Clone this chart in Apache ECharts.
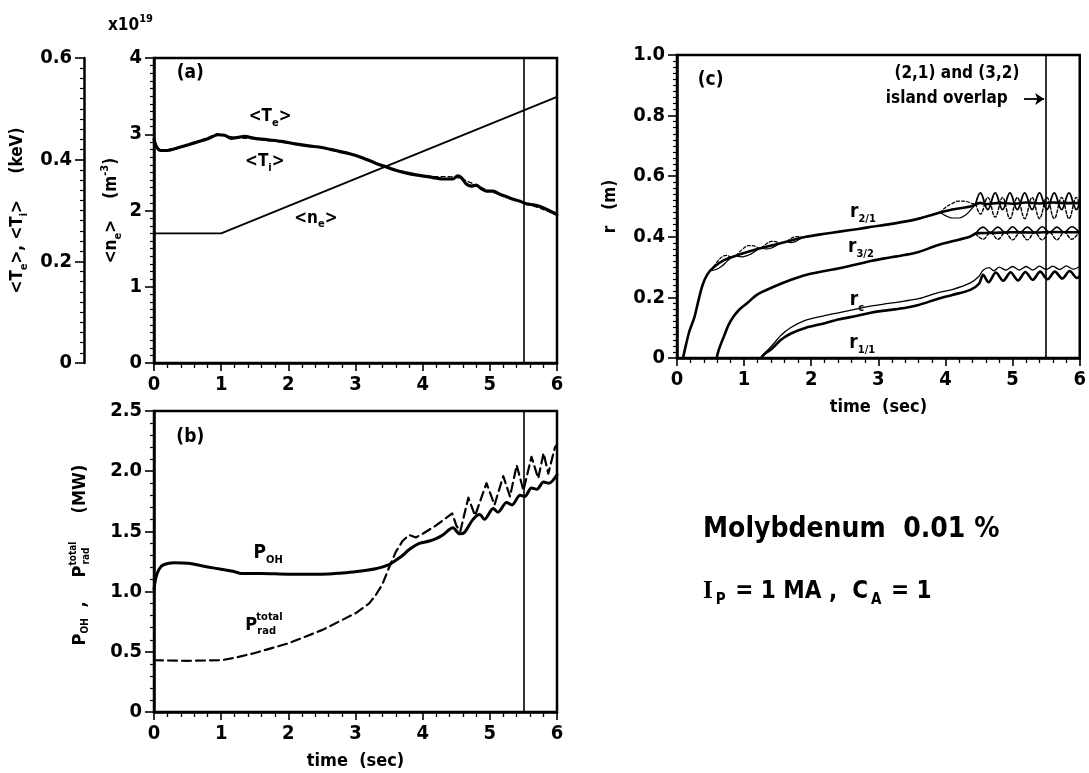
<!DOCTYPE html>
<html>
<head>
<meta charset="utf-8">
<script src="https://cdn.jsdelivr.net/npm/echarts@6.0.0/dist/echarts.min.js"></script>
<style>
  html, body { margin: 0; padding: 0; background: #fff; }
  #chart { width: 1089px; height: 773px; }
</style>
</head>
<body>
<div id="chart"></div>
<script>
// ---------- fonts ----------
const FONT = "'Liberation Sans Narrow', 'DejaVu Sans Condensed', 'Liberation Sans', sans-serif";
const SERIF = "'Liberation Serif', 'DejaVu Serif', serif";

// ---------- tick labels ----------
const timeTickLabels = ['0', '1', '2', '3', '4', '5', '6'];
const densityTickLabels = ['0', '1', '2', '3', '4'];
const tempTickLabels = ['0', '0.2', '0.4', '0.6'];
const powerTickLabels = ['0', '0.5', '1.0', '1.5', '2.0', '2.5'];
const radiusTickLabels = ['0', '0.2', '0.4', '0.6', '0.8', '1.0'];

// ---------- (a) volume-averaged temperatures [keV] and density [1e19 m^-3] ----------
const teKeV = [[0,0.44],[0.04,0.425],[0.1,0.418],[0.2,0.418],[0.3,0.421],[0.45,0.427],[0.6,0.433],
  [0.8,0.441],[0.95,0.449],[1.05,0.448],[1.15,0.442],[1.25,0.444],[1.35,0.446],[1.5,0.442],
  [1.7,0.439],[1.9,0.436],[2.1,0.431],[2.3,0.427],[2.5,0.424],[2.7,0.418],[2.9,0.412],[3.1,0.404],
  [3.3,0.393],[3.45,0.386],[3.6,0.379],[3.75,0.374],[3.9,0.37],[4.1,0.366],[4.3,0.362],[4.45,0.362],
  [4.52,0.368],[4.58,0.364],[4.65,0.352],[4.72,0.348],[4.8,0.35],[4.87,0.343],[4.95,0.338],
  [5.05,0.338],[5.15,0.332],[5.25,0.327],[5.35,0.322],[5.45,0.318],[5.55,0.313],[5.65,0.311],
  [5.75,0.308],[5.85,0.302],[6.0,0.292]];
const tiKeV = [[0,0.438],[0.1,0.417],[0.2,0.419],[0.4,0.426],[0.6,0.434],[0.8,0.443],[0.95,0.451],
  [1.1,0.446],[1.25,0.443],[1.5,0.441],[2.0,0.433],[2.5,0.423],[3.0,0.408],[3.45,0.386],
  [4.0,0.368],[4.5,0.365],[5.0,0.338],[5.5,0.316],[6.0,0.292]];
const neAvg = [[0,1.7],[1.0,1.7],[6.0,3.49]];

// ---------- (b) ohmic input and total radiated power [MW] ----------
const pOhmic = [[0,1.02],[0.03,1.12],[0.08,1.19],[0.15,1.225],[0.3,1.24],[0.5,1.235],[0.8,1.205],
  [1.0,1.185],[1.2,1.165],[1.3,1.15],[1.6,1.15],[2.0,1.145],[2.5,1.145],[2.8,1.155],[3.0,1.165],
  [3.3,1.19],[3.5,1.225],[3.6,1.26],[3.7,1.3],[3.8,1.35],[3.95,1.4],[4.1,1.42],[4.2,1.44],
  [4.3,1.47],[4.45,1.53],[4.55,1.48],[4.62,1.49],[4.75,1.6],[4.85,1.64],[4.92,1.6],[5.05,1.69],
  [5.12,1.66],[5.25,1.74],[5.33,1.72],[5.45,1.8],[5.52,1.79],[5.62,1.86],[5.7,1.85],[5.8,1.91],
  [5.88,1.9],[6.0,1.97]];
const pRadTotal = [[0,0.43],[0.5,0.425],[1.0,0.43],[1.2,0.45],[1.5,0.49],[2.0,0.57],[2.5,0.68],
  [3.0,0.82],[3.2,0.9],[3.3,0.97],[3.4,1.06],[3.5,1.2],[3.6,1.33],[3.7,1.42],[3.8,1.47],
  [3.85,1.46],[3.9,1.45],[4.0,1.48],[4.2,1.55],[4.44,1.65],[4.5,1.55],[4.56,1.5],[4.68,1.78],
  [4.78,1.63],[4.95,1.9],[5.07,1.72],[5.2,1.96],[5.3,1.79],[5.4,2.05],[5.5,1.84],[5.62,2.12],
  [5.72,1.94],[5.8,2.15],[5.87,1.98],[5.97,2.2],[6.0,2.22]];

// ---------- (c) radii of rational surfaces and island edges [m] ----------
const r21 = [[0.09,0],[0.13,0.04],[0.18,0.085],[0.22,0.11],[0.26,0.135],[0.32,0.19],[0.38,0.24],
  [0.45,0.275],[0.55,0.3],[0.7,0.323],[0.95,0.343],[1.2,0.36],[1.44,0.373],[1.7,0.388],[1.92,0.4],
  [2.2,0.41],[2.42,0.417],[2.7,0.426],[2.9,0.433],[3.15,0.441],[3.39,0.45],[3.6,0.46],[3.88,0.478],
  [4.1,0.49],[4.37,0.5],[4.52,0.512],[4.6,0.508],[4.8,0.512],[5.0,0.509],[5.2,0.513],[5.4,0.51],
  [5.6,0.513],[5.8,0.511],[6.0,0.512]];
const r32 = [[0.59,0],[0.62,0.025],[0.66,0.05],[0.7,0.072],[0.77,0.11],[0.84,0.136],[0.93,0.16],
  [1.04,0.18],[1.2,0.21],[1.44,0.235],[1.7,0.258],[1.92,0.274],[2.2,0.287],[2.42,0.296],[2.7,0.31],
  [2.9,0.321],[3.15,0.331],[3.39,0.34],[3.6,0.35],[3.88,0.372],[4.1,0.385],[4.37,0.401],
  [4.47,0.412],[4.7,0.413],[5.0,0.415],[5.3,0.414],[5.6,0.416],[6.0,0.415]];
const rC = [[1.25,0],[1.3,0.015],[1.4,0.037],[1.55,0.075],[1.69,0.1],[1.92,0.125],[2.2,0.14],
  [2.42,0.15],[2.7,0.163],[2.9,0.172],[3.15,0.18],[3.39,0.188],[3.6,0.196],[3.88,0.215],[4.1,0.226],
  [4.37,0.248],[4.5,0.27],[4.56,0.29],[4.65,0.298],[4.72,0.288],[4.8,0.3],[4.9,0.29],[5.0,0.302],
  [5.1,0.29],[5.2,0.302],[5.3,0.29],[5.4,0.303],[5.5,0.292],[5.6,0.303],[5.7,0.292],[5.8,0.304],
  [5.9,0.293],[6.0,0.302]];
const r11 = [[1.25,0],[1.3,0.012],[1.4,0.028],[1.55,0.06],[1.69,0.08],[1.92,0.1],[2.2,0.115],
  [2.42,0.128],[2.7,0.14],[2.9,0.15],[3.15,0.158],[3.39,0.165],[3.6,0.175],[3.88,0.195],[4.1,0.208],
  [4.37,0.225],[4.5,0.245],[4.56,0.275],[4.64,0.25],[4.75,0.282],[4.86,0.255],[4.97,0.283],
  [5.08,0.256],[5.19,0.284],[5.3,0.258],[5.41,0.285],[5.52,0.26],[5.63,0.285],[5.74,0.262],
  [5.85,0.287],[5.96,0.264],[6.0,0.27]];

// island separatrix traces, drawn as separate segments
const r21EdgeSolid = [
  [[0.5,0.288],[0.58,0.292],[0.66,0.302],[0.74,0.318],[0.8,0.331]],
  [[0.88,0.338],[0.97,0.334],[1.07,0.34],[1.15,0.35],[1.22,0.361]],
  [[1.26,0.363],[1.33,0.36],[1.41,0.363],[1.47,0.37],[1.52,0.377]],
  [[1.64,0.385],[1.7,0.381],[1.76,0.384],[1.81,0.39],[1.86,0.397]],
  [[3.92,0.48],[4.0,0.47],[4.1,0.462],[4.2,0.462],[4.3,0.472],[4.38,0.49],[4.45,0.508]]
];
const r21EdgeDashed = [
  [[0.5,0.288],[0.58,0.312],[0.66,0.332],[0.74,0.339],[0.8,0.331]],
  [[0.88,0.338],[0.97,0.358],[1.07,0.371],[1.15,0.37],[1.22,0.361]],
  [[1.26,0.363],[1.33,0.376],[1.41,0.385],[1.47,0.384],[1.52,0.377]],
  [[1.64,0.385],[1.7,0.395],[1.76,0.4],[1.81,0.401],[1.86,0.397]],
  [[3.92,0.48],[4.0,0.497],[4.1,0.51],[4.2,0.518],[4.3,0.517],[4.38,0.511],[4.45,0.508]]
];
// oscillating (2,1) island edges once the islands rotate past the overlap
const r21OuterWave = [[4.45,0.508],[4.52,0.545],[4.63,0.49],[4.74,0.545],[4.85,0.49],[4.96,0.545],
  [5.07,0.49],[5.18,0.545],[5.29,0.49],[5.4,0.545],[5.51,0.49],[5.62,0.545],[5.73,0.49],
  [5.84,0.545],[5.95,0.49],[6.0,0.515]];
const r21InnerWave = [[4.45,0.508],[4.52,0.475],[4.63,0.53],[4.74,0.465],[4.85,0.53],[4.96,0.46],
  [5.07,0.53],[5.18,0.46],[5.29,0.53],[5.4,0.46],[5.51,0.53],[5.62,0.46],[5.73,0.53],[5.84,0.46],
  [5.95,0.53],[6.0,0.505]];
const r32OuterWave = [[4.45,0.41],[4.56,0.432],[4.67,0.414],[4.78,0.432],[4.89,0.414],[5.0,0.433],
  [5.11,0.414],[5.22,0.432],[5.33,0.414],[5.44,0.433],[5.55,0.415],[5.66,0.432],[5.77,0.415],
  [5.88,0.433],[5.99,0.415]];
const r32InnerWave = [[4.45,0.41],[4.56,0.392],[4.67,0.414],[4.78,0.392],[4.89,0.414],[5.0,0.39],
  [5.11,0.414],[5.22,0.39],[5.33,0.414],[5.44,0.39],[5.55,0.415],[5.66,0.39],[5.77,0.415],
  [5.88,0.392],[5.99,0.415]];

// time at which the (2,1) and (3,2) islands overlap
const tOverlap = 5.5;

// ---------- styling helpers ----------
const RICH = {
  n: { fontFamily: FONT, fontWeight: 'bold', fontSize: 17, lineHeight: 24, verticalAlign: 'middle', color: '#000' },
  big: { fontFamily: FONT, fontWeight: 'bold', fontSize: 19, lineHeight: 26, verticalAlign: 'middle', color: '#000' },
  s: { fontFamily: FONT, fontWeight: 'bold', fontSize: 11, lineHeight: 12, verticalAlign: 'bottom', color: '#000' },
  p: { fontFamily: FONT, fontWeight: 'bold', fontSize: 11, lineHeight: 12, verticalAlign: 'top', color: '#000' }
};

function xAxisFor(gridIndex, name) {
  return {
    type: 'value', gridIndex, min: 0, max: 6, interval: 1,
    name: name || '', nameLocation: 'middle', nameGap: 40,
    nameTextStyle: { fontFamily: FONT, fontWeight: 'bold', fontSize: 18, color: '#000' },
    axisLine: { show: true, onZero: false, lineStyle: { color: '#000', width: 2.5 } },
    axisTick: { show: true, length: 8, lineStyle: { color: '#000', width: 1.6 } },
    minorTick: { show: true, splitNumber: 5, length: 5, lineStyle: { color: '#000', width: 1.3 } },
    axisLabel: { fontFamily: FONT, fontWeight: 'bold', fontSize: 20, color: '#000', margin: 12,
      formatter: v => timeTickLabels[Math.round(v)] },
    splitLine: { show: false }
  };
}

function yAxisFor(gridIndex, max, interval, minorSplit, labels, extra) {
  return Object.assign({
    type: 'value', gridIndex, min: 0, max, interval, position: 'left',
    nameLocation: 'middle', nameRotate: 90,
    nameTextStyle: { rich: RICH },
    axisLine: { show: true, onZero: false, lineStyle: { color: '#000', width: 2.5 } },
    axisTick: { show: true, length: 9, lineStyle: { color: '#000', width: 1.6 } },
    minorTick: { show: true, splitNumber: minorSplit, length: 4, lineStyle: { color: '#000', width: 1.2 } },
    axisLabel: { fontFamily: FONT, fontWeight: 'bold', fontSize: 20, color: '#000', margin: 12,
      formatter: v => labels[Math.round(v / interval)] },
    splitLine: { show: false }
  }, extra || {});
}

function lineSeries(xi, yi, data, width, dash, smooth, z) {
  return {
    type: 'line', xAxisIndex: xi, yAxisIndex: yi, data,
    showSymbol: false, symbol: 'none', smooth: smooth, animation: false, silent: true,
    lineStyle: { color: '#000', width, type: dash || 'solid', cap: 'round', join: 'round' },
    z: z || 2
  };
}

const overlapMark = {
  silent: true, symbol: ['none', 'none'], animation: false,
  label: { show: false },
  lineStyle: { color: '#000', width: 1.6, type: 'solid' },
  data: [{ xAxis: tOverlap }]
};

// ---------- series ----------
const series = [];
series.push(lineSeries(0, 1, teKeV, 3.2, 'solid', 0.25, 3));
series.push(lineSeries(0, 1, tiKeV, 1.3, [4, 3], 0.25, 4));
const neSeries = lineSeries(0, 0, neAvg, 1.8, 'solid', false);
neSeries.markLine = overlapMark;
series.push(neSeries);

const pohSeries = lineSeries(1, 2, pOhmic, 3, 'solid', 0.3, 3);
pohSeries.markLine = overlapMark;
series.push(pohSeries);
series.push(lineSeries(1, 2, pRadTotal, 2.2, [9, 5], false, 3));

const r21Series = lineSeries(2, 3, r21, 2.6, 'solid', 0.3, 3);
r21Series.markLine = overlapMark;
series.push(r21Series);
series.push(lineSeries(2, 3, r32, 2.6, 'solid', 0.3, 3));
series.push(lineSeries(2, 3, rC, 1.3, 'solid', 0.3, 3));
series.push(lineSeries(2, 3, r11, 2.6, 'solid', 0.3, 3));
r21EdgeSolid.forEach(seg => series.push(lineSeries(2, 3, seg, 1.2, 'solid', 0.4, 4)));
r21EdgeDashed.forEach(seg => series.push(lineSeries(2, 3, seg, 1.2, [3, 2], 0.4, 4)));
series.push(lineSeries(2, 3, r21OuterWave, 1.9, 'solid', 0.4, 4));
series.push(lineSeries(2, 3, r21InnerWave, 1.4, [3, 2], 0.4, 4));
series.push(lineSeries(2, 3, r32OuterWave, 1.6, 'solid', 0.4, 4));
series.push(lineSeries(2, 3, r32InnerWave, 1.4, [3, 2], 0.4, 4));

// arrow pointing at the overlap time
const arrowHolder = lineSeries(2, 3, [], 1, 'solid', false);
arrowHolder.markLine = {
  silent: true, animation: false, label: { show: false }, symbolSize: 9,
  lineStyle: { color: '#000', width: 1.8, type: 'solid' },
  data: [[{ coord: [5.17, 0.855], symbol: 'none' }, { coord: [5.47, 0.855], symbol: 'arrow' }]]
};
series.push(arrowHolder);

const gridStyle = { show: true, borderColor: '#000', borderWidth: 2.5, backgroundColor: 'transparent' };

const option = {
  animation: false,
  backgroundColor: '#fff',
  textStyle: { fontFamily: FONT },
  grid: [
    Object.assign({ left: 154, top: 58, width: 403, height: 305 }, gridStyle),
    Object.assign({ left: 154, top: 411, width: 403, height: 301 }, gridStyle),
    Object.assign({ left: 677, top: 55, width: 409, height: 303 }, gridStyle)
  ],
  xAxis: [xAxisFor(0), xAxisFor(1, 'time  (sec)'), xAxisFor(2, 'time  (sec)')],
  yAxis: [
    yAxisFor(0, 4, 1, 10, densityTickLabels, {
      name: '{n|<n}{s|e}{n|>    (m}{p|-3}{n|)}', nameGap: 30
    }),
    yAxisFor(0, 0.6, 0.2, 10, tempTickLabels, {
      offset: 70,
      name: '{n|<T}{s|e}{n|>, <T}{s|i}{n|>     (keV)}', nameGap: 54
    }),
    yAxisFor(1, 2.5, 0.5, 5, powerTickLabels, {}),
    yAxisFor(2, 1.0, 0.2, 10, radiusTickLabels, { name: '{n|r   (m)}', nameGap: 54 })
  ],
  series
};

const chart = echarts.init(document.getElementById('chart'), null, { renderer: 'canvas' });
chart.setOption(option);

// ---------- annotations anchored to data coordinates ----------
const A = { xAxisIndex: 0, yAxisIndex: 0 };
const B = { xAxisIndex: 1, yAxisIndex: 2 };
const C = { xAxisIndex: 2, yAxisIndex: 3 };
const at = (sys, pt) => chart.convertToPixel(sys, pt);

function text(pos, str, align) {
  return {
    type: 'text', x: pos[0], y: pos[1], silent: true, z: 10,
    style: { text: str, rich: RICH, align: align || 'center', verticalAlign: 'middle', fill: '#000',
      fontFamily: FONT, fontWeight: 'bold', fontSize: 17 }
  };
}

function plain(x, y, str, size, align, family, weight) {
  return { type: 'text', x, y, silent: true, z: 10,
    style: { text: str, fill: '#000', fontFamily: family || FONT, fontWeight: weight || 'bold', fontSize: size,
      align: align || 'left', verticalAlign: 'middle' } };
}

// P_rad with stacked "total" / "rad" scripts
function pRadGroup(pos) {
  return {
    type: 'group', x: pos[0], y: pos[1], silent: true, z: 10,
    children: [
      plain(0, 0, 'P', 18),
      plain(11, -8, 'total', 11),
      plain(12, 6, 'rad', 11)
    ]
  };
}

const aTop = at(A, [0, 4]);
const graphics = [
  // exponent marker for the density axis
  text([aTop[0] - 46, aTop[1] - 32], '{n|x10}{p|19}', 'left'),
  text(at(A, [0.54, 3.8]), '{big|(a)}'),
  text(at(A, [1.73, 3.23]), '{n|<T}{s|e}{n|>}'),
  text(at(A, [1.65, 2.64]), '{n|<T}{s|i}{n|>}'),
  text(at(A, [2.41, 1.9]), '{n|<n}{s|e}{n|>}'),

  text(at(B, [0.54, 2.28]), '{big|(b)}'),
  text(at(B, [1.7, 1.32]), '{big|P}{s|OH}'),
  pRadGroup(at(B, [1.36, 0.72])),

  text(at(C, [0.5, 0.917]), '{big|(c)}'),
  text(at(C, [4.17, 0.94]), '{n|(2,1) and (3,2)}'),
  text(at(C, [4.02, 0.855]), '{n|island overlap}'),
  text(at(C, [2.77, 0.483]), '{big|r}{s|2/1}'),
  text(at(C, [2.74, 0.367]), '{big|r}{s|3/2}'),
  text(at(C, [2.68, 0.19]), '{big|r}{s|c}'),
  text(at(C, [2.76, 0.05]), '{big|r}{s|1/1}')
];

// rotated name of the power axis: P_OH , P_rad^total (MW)
const bMid = at(B, [0, 1.25]);
graphics.push({
  type: 'group', x: bMid[0] - 74, y: bMid[1], rotation: Math.PI / 2, silent: true, z: 10,
  children: [
    plain(-84, 0, 'P', 18),
    plain(-72, 5, 'OH', 10),
    plain(-46, 0, ',', 18),
    plain(-16, 0, 'P', 18),
    plain(-4, -7, 'total', 10),
    plain(-3, 6, 'rad', 10),
    plain(48, 0, '(MW)', 18)
  ]
});

// run parameters
const cOrigin = at(C, [0, 0]);
graphics.push(plain(cOrigin[0] + 26, 530, 'Molybdenum  0.01 %', 28));
graphics.push({
  type: 'text', x: cOrigin[0] + 26, y: 592, silent: true, z: 10,
  style: {
    text: '{i|I}{sb|P}{m| = 1 MA ,  C}{sb|A}{m| = 1}',
    align: 'left', verticalAlign: 'middle',
    rich: {
      i: { fontFamily: SERIF, fontWeight: 'bold', fontSize: 25, lineHeight: 32, verticalAlign: 'middle', color: '#000' },
      m: { fontFamily: FONT, fontWeight: 'bold', fontSize: 24, lineHeight: 32, verticalAlign: 'middle', color: '#000' },
      sb: { fontFamily: FONT, fontWeight: 'bold', fontSize: 15, lineHeight: 14, verticalAlign: 'bottom', color: '#000', padding: [0, 2, 0, 3] }
    }
  }
});

chart.setOption({ graphic: graphics });
</script>
</body>
</html>
